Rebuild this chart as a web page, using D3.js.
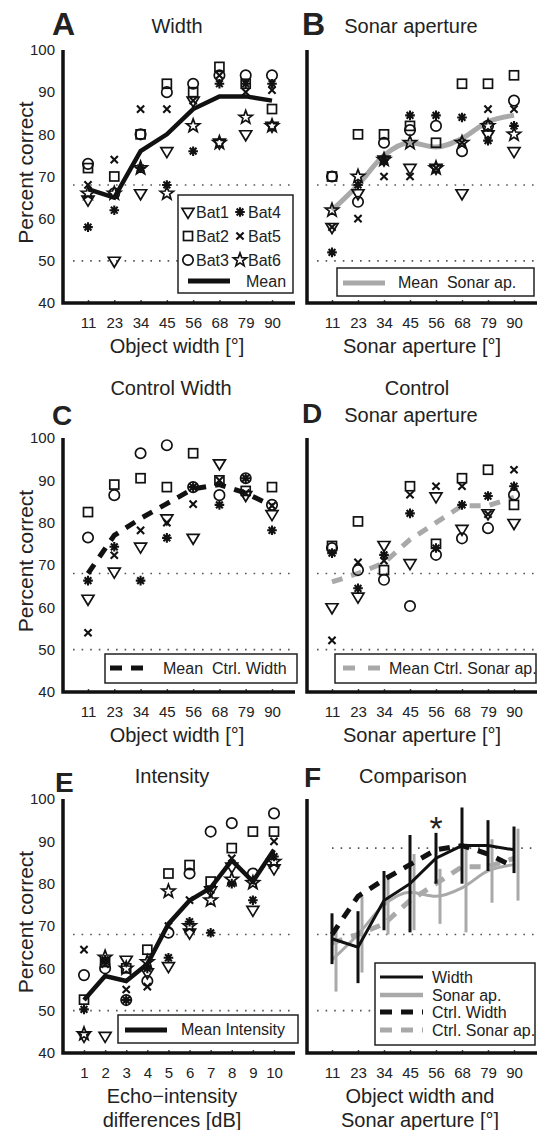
<!DOCTYPE html>
<html>
<head>
<meta charset="utf-8">
<script src="https://cdn.jsdelivr.net/npm/d3@7"></script>
<style>
  body { margin: 0; background: #fff; }
  svg { display: block; }
  text { font-family: "Liberation Sans", Arial, sans-serif; fill: #222; }
</style>
</head>
<body>
<svg id="chart" width="537" height="1130"></svg>
<script>
// categories
const widths = ["11", "23", "34", "45", "56", "68", "79", "90"];
const intensities = ["1", "2", "3", "4", "5", "6", "7", "8", "9", "10"];
const yTicks = [40, 50, 60, 70, 80, 90, 100];

// A - width (Bat1..Bat6, mean)
const widthBat1 = [64.5, 50, 66, 76, 88, 78, 80, 82];
const widthBat2 = [72, 70, 80, 92, 90, 96, 92, 86];
const widthBat3 = [73, 66, 80, 90, 92, 94, 94, 94];
const widthBat4 = [58, 62, 72, 68, 76, 92, 92, 92];
const widthBat5 = [68, 74, 86, 86, 88, 94, 90, 90.5];
const widthBat6 = [66, 66, 72, 66, 82, 78, 84, 82];
const widthMean = [67, 65, 76, 80, 86, 89, 89, 88];

// B - sonar aperture
const sonarBat1 = [58, 66, 74, 72, 72, 66, 80, 76];
const sonarBat2 = [70, 80, 80, 82, 78, 92, 92, 94];
const sonarBat3 = [70, 64, 78, 81, 82, 76, 82, 88];
const sonarBat4 = [52, 68, 74, 84.5, 84.5, 84, 78.5, 82];
const sonarBat5 = [58, 60, 70, 70, 72, 78, 86, 86];
const sonarBat6 = [62, 70, 74, 78, 72, 78, 82, 80];
const sonarMean = [62, 68, 75, 78, 77, 79, 83, 84.5];

// C - control width (5 bats)
const ctrlWidthBat1 = [62, 68.4, 74.3, 81, 76.4, 94, 86.5, 82];
const ctrlWidthBat2 = [82.5, 89, 90.5, 88.4, 96.4, 90, 87.5, 88.4];
const ctrlWidthBat3 = [76.5, 86.5, 96.4, 98.3, 88.4, 86.5, 90.5, 84.2];
const ctrlWidthBat4 = [66.3, 74.3, 66.3, 76.4, 88.4, 84.2, 90.5, 78.2];
const ctrlWidthBat5 = [54, 72.3, 78.2, 80, 84.4, 90, 87, 84];
const ctrlWidthMean = [68, 77, 81, 84.5, 88, 89, 87, 84];

// D - control sonar aperture (5 bats)
const ctrlSonarBat1 = [60, 62.5, 74.7, 70.4, 86.2, 78.5, 82.2, 79.9];
const ctrlSonarBat2 = [74.5, 80.3, 68.8, 88.6, 75, 90.5, 92.5, 84.2];
const ctrlSonarBat3 = [74, 68.8, 66.5, 60.3, 72.4, 76.3, 78.7, 86.6];
const ctrlSonarBat4 = [72.8, 64.5, 72.4, 82.2, 74, 84.2, 86.3, 88.6];
const ctrlSonarBat5 = [52.2, 70.6, 71, 86.6, 88.6, 88.6, 82, 92.5];
const ctrlSonarMean = [66, 68, 70.5, 76, 80, 84, 84, 86];

// E - intensity
const intBat1 = [44, 44, 62, 59, 60.5, 68.4, 78.4, 84, 73.8, 83.6];
const intBat2 = [52.6, 61.5, 60, 64.4, 82.4, 84.4, 80.5, 88.4, 92.3, 92.3];
const intBat3 = [58.4, 60, 52.5, 57, 68.4, 82.4, 92.3, 94.3, 82.4, 96.6];
const intBat4 = [50.3, 62, 52.5, 60, 62.5, 71, 68.4, 80, 76.1, 86.4];
const intBat5 = [64.4, 61, 55, 55.7, 70, 76.1, 78.5, 86, 80.5, 90];
const intBat6 = [44.5, 62.6, 60, 61.5, 78.2, 70, 76.1, 81, 80.2, 85.2];
const intMean = [52.5, 58.2, 57, 61, 70.5, 76, 79, 85.5, 80.5, 88];

// F - comparison error bars
const widthErr = [6, 8.5, 7, 11.5, 6, 9, 6, 5.5];
const sonarErr = [7.5, 9, 7, 9, 6.5, 10.5, 7.5, 8.5];

const GRAY = "#a9a9a9";
const svg = d3.select("#chart");

const LEFT = { axis: 63, first: 88, last: 272, end: 295 };
const RIGHT = { axis: 307, first: 332, last: 514, end: 537 };
const ROWS = [{ top: 50, bottom: 303 }, { top: 438, bottom: 692 }, { top: 799, bottom: 1053 }];

function starPath(R, r) {
  const p = [];
  for (let k = 0; k < 10; k++) {
    const a = -Math.PI / 2 + k * Math.PI / 5;
    const rr = k % 2 ? r : R;
    p.push([(rr * Math.cos(a)).toFixed(2), (rr * Math.sin(a)).toFixed(2)]);
  }
  return "M" + p.join("L") + "Z";
}

function marker(g, type) {
  const s = { fill: "none", stroke: "#111", "stroke-width": 1.7 };
  let el;
  if (type === "tri") el = g.append("path").attr("d", "M-6,-3.6L6,-3.6L0,6.4Z");
  else if (type === "sq") el = g.append("rect").attr("x", -4.5).attr("y", -4.5).attr("width", 9).attr("height", 9);
  else if (type === "circ") el = g.append("circle").attr("r", 5.2);
  else if (type === "star") el = g.append("path").attr("d", starPath(7, 2.9));
  else if (type === "x") {
    el = g.append("path").attr("d", "M-3.6,-3.6L3.6,3.6M-3.6,3.6L3.6,-3.6");
    s["stroke-width"] = 2.1;
  } else if (type === "ast") {
    let d = "";
    for (let k = 0; k < 4; k++) {
      const a = k * Math.PI / 4, c = Math.cos(a) * 4.8, sn = Math.sin(a) * 4.8;
      d += `M${(-c).toFixed(2)},${(-sn).toFixed(2)}L${c.toFixed(2)},${sn.toFixed(2)}`;
    }
    el = g.append("path").attr("d", d);
    s["stroke-width"] = 2.1;
  }
  Object.entries(s).forEach(([k, v]) => el.attr(k, v));
}

function panel(col, row, cats, opts = {}) {
  const x = d3.scalePoint().domain(cats).range([opts.first || col.first, opts.last || col.last]);
  const y = d3.scaleLinear().domain([40, 100]).range([row.bottom, row.top]);
  const g = svg.append("g");
  const marks = svg.append("g");

  (opts.refs || [50, 68]).forEach(v => {
    g.append("line")
      .attr("x1", col.axis + (v > 80 ? 25 : 10)).attr("x2", col.end)
      .attr("y1", y(v)).attr("y2", y(v))
      .attr("stroke", "#555").attr("stroke-width", 1.6)
      .attr("stroke-dasharray", "1.6 7");
  });

  const xa = g.append("g")
    .attr("transform", `translate(0,${row.bottom})`)
    .call(d3.axisBottom(x).tickSize(-3).tickPadding(14));
  xa.select(".domain").remove();
  xa.attr("font-family", null).attr("font-size", 15);
  xa.selectAll(".tick line").attr("stroke", "#444").attr("stroke-width", 1.5);

  if (opts.yLabels) {
    const ya = g.append("g")
      .attr("transform", `translate(${col.axis},0)`)
      .call(d3.axisLeft(y).tickValues(yTicks).tickSize(0).tickPadding(8));
    ya.select(".domain").remove();
    ya.attr("font-family", null).attr("font-size", 15);
    g.append("text")
      .attr("transform", `translate(33,${(row.top + row.bottom) / 2 - 4}) rotate(-90)`)
      .attr("text-anchor", "middle").attr("font-size", 21)
      .text("Percent correct");
  }

  const axisG = svg.append("g");
  axisG.append("path")
    .attr("d", `M${col.axis},${row.top}V${row.bottom}H${col.end}`)
    .attr("fill", "none").attr("stroke", "#111").attr("stroke-width", 3.5);

  return { g: marks, x, y, cats };
}

function drawBats(p, series) {
  series.forEach(([vals, type]) => {
    vals.forEach((v, i) => {
      const m = p.g.append("g").attr("transform", `translate(${p.x(p.cats[i])},${p.y(v)})`);
      marker(m, type);
    });
  });
}

function drawLine(p, vals, stroke, width, dash, curve) {
  p.g.append("path")
    .datum(vals)
    .attr("fill", "none")
    .attr("stroke", stroke)
    .attr("stroke-width", width)
    .attr("stroke-dasharray", dash || null)
    .attr("d", d3.line().x((d, i) => p.x(p.cats[i])).y(d => p.y(d)).curve(curve || d3.curveLinear));
}

function legendBox(x0, y0, x1, y1) {
  const g = svg.append("g");
  g.append("rect").attr("x", x0).attr("y", y0).attr("width", x1 - x0).attr("height", y1 - y0)
    .attr("fill", "#fff").attr("stroke", "#222").attr("stroke-width", 1.5);
  return g;
}

function legendText(g, x, y, t, size) {
  g.append("text").attr("x", x).attr("y", y).attr("font-size", size || 16)
    .style("white-space", "pre").text(t);
}

function title(x, y, t, size, bold) {
  svg.append("text").attr("x", x).attr("y", y).attr("font-size", size)
    .attr("font-weight", bold ? "bold" : null)
    .attr("text-anchor", bold ? "start" : "middle").text(t);
}

const batTypes = ["tri", "sq", "circ", "ast", "x", "star"];

// ---------- A ----------
const pA = panel(LEFT, ROWS[0], widths, { yLabels: true });
drawBats(pA, [widthBat1, widthBat2, widthBat3, widthBat4, widthBat5, widthBat6].map((v, i) => [v, batTypes[i]]));
drawLine(pA, widthMean, "#111", 4.5);
{
  const lg = legendBox(178, 195, 293, 293);
  const rows = [212, 236, 260];
  [["tri", "Bat1", "ast", "Bat4"], ["sq", "Bat2", "x", "Bat5"], ["circ", "Bat3", "star", "Bat6"]].forEach((r, i) => {
    marker(lg.append("g").attr("transform", `translate(188,${rows[i]})`), r[0]);
    legendText(lg, 196, rows[i] + 6, r[1]);
    marker(lg.append("g").attr("transform", `translate(240,${rows[i]})`), r[2]);
    legendText(lg, 248, rows[i] + 6, r[3]);
  });
  lg.append("line").attr("x1", 188).attr("x2", 230).attr("y1", 281).attr("y2", 281)
    .attr("stroke", "#111").attr("stroke-width", 5);
  legendText(lg, 246, 287, "Mean");
}
title(52, 35, "A", 32, true);
title(177, 33, "Width", 20);
title(177, 353, "Object width [°]", 20);

// ---------- B ----------
const pB = panel(RIGHT, ROWS[0], widths);
drawLine(pB, sonarMean, GRAY, 5, null, d3.curveMonotoneX);
drawBats(pB, [sonarBat1, sonarBat2, sonarBat3, sonarBat4, sonarBat5, sonarBat6].map((v, i) => [v, batTypes[i]]));
{
  const lg = legendBox(337, 268, 534, 296);
  lg.append("line").attr("x1", 343).attr("x2", 385).attr("y1", 283).attr("y2", 283)
    .attr("stroke", GRAY).attr("stroke-width", 5);
  legendText(lg, 398, 288, "Mean  Sonar ap.");
}
title(302, 35, "B", 32, true);
title(411, 33, "Sonar aperture", 20);
title(422, 353, "Sonar aperture [°]", 20);

// ---------- C ----------
const pC = panel(LEFT, ROWS[1], widths, { yLabels: true });
drawBats(pC, [ctrlWidthBat1, ctrlWidthBat2, ctrlWidthBat3, ctrlWidthBat4, ctrlWidthBat5].map((v, i) => [v, batTypes[i]]));
drawLine(pC, ctrlWidthMean, "#111", 5, "11 9");
{
  const lg = legendBox(105, 654, 297, 683);
  lg.append("line").attr("x1", 110).attr("x2", 143).attr("y1", 668).attr("y2", 668)
    .attr("stroke", "#111").attr("stroke-width", 5).attr("stroke-dasharray", "12 9");
  legendText(lg, 163, 674, "Mean  Ctrl. Width");
}
title(52, 425, "C", 28, true);
title(171, 395, "Control Width", 20);
title(177, 742, "Object width [°]", 20);

// ---------- D ----------
const pD = panel(RIGHT, ROWS[1], widths);
drawLine(pD, ctrlSonarMean, GRAY, 5, "11 9");
drawBats(pD, [ctrlSonarBat1, ctrlSonarBat2, ctrlSonarBat3, ctrlSonarBat4, ctrlSonarBat5].map((v, i) => [v, batTypes[i]]));
{
  const lg = legendBox(335, 654, 536, 683);
  lg.append("line").attr("x1", 343).attr("x2", 380).attr("y1", 668).attr("y2", 668)
    .attr("stroke", GRAY).attr("stroke-width", 5).attr("stroke-dasharray", "12 13");
  legendText(lg, 389, 674, "Mean Ctrl. Sonar ap.");
}
title(302, 423, "D", 28, true);
title(417, 395, "Control", 20);
title(411, 422, "Sonar aperture", 20);
title(422, 742, "Sonar aperture [°]", 20);

// ---------- E ----------
const pE = panel(LEFT, ROWS[2], intensities, { yLabels: true, first: 84, last: 274 });
drawBats(pE, [intBat1, intBat2, intBat3, intBat4, intBat5, intBat6].map((v, i) => [v, batTypes[i]]));
drawLine(pE, intMean, "#111", 4.5);
{
  const lg = legendBox(118, 1015, 298, 1043);
  lg.append("line").attr("x1", 125).attr("x2", 167).attr("y1", 1030).attr("y2", 1030)
    .attr("stroke", "#111").attr("stroke-width", 5);
  legendText(lg, 181, 1035, "Mean Intensity");
}
title(55, 792, "E", 28, true);
title(172, 783, "Intensity", 20);
title(172, 1103, "Echo\u2212intensity", 20);
title(172, 1127, "differences [dB]", 20);

// ---------- F ----------
const pF = panel(RIGHT, ROWS[2], widths, { refs: [50, 68, 88.4] });
sonarMean.forEach((m, i) => {
  const xx = pF.x(widths[i]) + 4;
  pF.g.append("line").attr("x1", xx).attr("x2", xx)
    .attr("y1", pF.y(m - sonarErr[i])).attr("y2", pF.y(m + sonarErr[i]))
    .attr("stroke", GRAY).attr("stroke-width", 3);
});
drawLine(pF, sonarMean, GRAY, 3, null, d3.curveMonotoneX);
drawLine(pF, ctrlSonarMean, GRAY, 5, "11 9");
drawLine(pF, ctrlWidthMean, "#111", 5, "11 9");
drawLine(pF, widthMean, "#111", 3);
widthMean.forEach((m, i) => {
  const xx = pF.x(widths[i]);
  pF.g.append("line").attr("x1", xx).attr("x2", xx)
    .attr("y1", pF.y(m - widthErr[i])).attr("y2", pF.y(m + widthErr[i]))
    .attr("stroke", "#111").attr("stroke-width", 3);
});
pF.g.append("text").attr("x", pF.x("56")).attr("y", pF.y(95) + 20)
  .attr("text-anchor", "middle").attr("font-size", 34).text("*");
{
  const lg = legendBox(375, 963, 535, 1045);
  const items = [
    ["Width", "#111", 3, null],
    ["Sonar ap.", GRAY, 4.5, null],
    ["Ctrl. Width", "#111", 5, "12 9"],
    ["Ctrl. Sonar ap.", GRAY, 5, "12 9"]
  ];
  const ry = [977, 995, 1012, 1030];
  items.forEach((it, i) => {
    lg.append("line").attr("x1", 380).attr("x2", 423).attr("y1", ry[i]).attr("y2", ry[i])
      .attr("stroke", it[1]).attr("stroke-width", it[2]).attr("stroke-dasharray", it[3]);
    legendText(lg, 432, ry[i] + 6, it[0]);
  });
}
title(304, 787, "F", 28, true);
title(413, 783, "Comparison", 20);
title(420, 1103, "Object width and", 20);
title(420, 1127, "Sonar aperture [°]", 20);
</script>
</body>
</html>
